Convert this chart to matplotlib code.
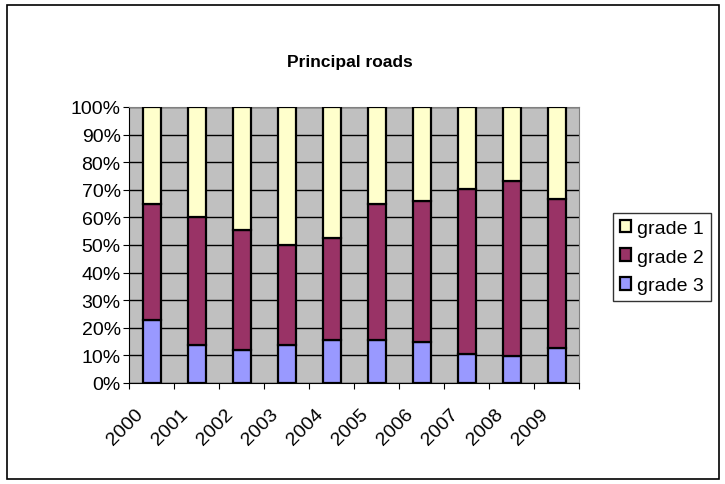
import numpy as np
import matplotlib.pyplot as plt
from matplotlib.patches import Rectangle
from matplotlib.ticker import PercentFormatter

plt.rcParams['font.family'] = ['Liberation Sans', 'DejaVu Sans']

# values (percent of total)
years = ["2000", "2001", "2002", "2003", "2004", "2005", "2006", "2007", "2008", "2009"]
grade3 = [23.0, 13.6, 12.1, 13.6, 15.7, 15.7, 15.0, 10.5, 9.9, 12.8]
grade2_top = [65.0, 60.0, 55.6, 49.9, 52.7, 65.0, 65.9, 70.3, 73.2, 66.7]

g3 = np.array(grade3)
g2 = np.array(grade2_top) - g3
g1 = 100 - np.array(grade2_top)

fig = plt.figure(figsize=(7.25, 4.85), dpi=100)
fig.patches.append(Rectangle((7 / 725, 5 / 485), 712 / 725, 474 / 485, transform=fig.transFigure,
                             fill=False, edgecolor="black", lw=1.2))

ax = fig.add_axes([129 / 725, 1 - 384 / 485, 450 / 725, 276 / 485])
ax.set_facecolor("#C0C0C0")

x = np.arange(len(years))
w = 0.4
kw = dict(width=w, edgecolor="black", linewidth=1.6, zorder=3)
ax.bar(x, g3, color="#9999FF", label="grade 3", **kw)
ax.bar(x, g2, bottom=g3, color="#993366", label="grade 2", **kw)
ax.bar(x, g1, bottom=g3 + g2, color="#FFFFCC", label="grade 1", **kw)

ax.set_xlim(-0.5, len(years) - 0.5)
ax.set_ylim(0, 100)
ax.set_yticks(np.arange(0, 101, 10))
ax.yaxis.set_major_formatter(PercentFormatter(decimals=0))
ax.yaxis.grid(True, color="black", lw=1, zorder=0)
ax.set_axisbelow(True)

# tick marks at category boundaries, labels slightly left of bar centres (Excel style)
ax.set_xticks(np.arange(len(years) + 1) - 0.5)
ax.set_xticklabels([])
ax.set_xticks(x - 0.38, minor=True)
ax.set_xticklabels(years, minor=True, rotation=45, ha="right", va="top",
                   rotation_mode="anchor", fontsize=14)
ax.tick_params(axis="x", which="minor", length=0, pad=16)
ax.tick_params(axis="x", which="major", length=4, direction="out")
ax.tick_params(axis="y", length=4, direction="out", labelsize=14, pad=2)

for s in ["top", "right"]:
    ax.spines[s].set_color("#808080")
for s in ["left", "bottom"]:
    ax.spines[s].set_color("black")

fig.text(350 / 725, 1 - 62 / 485, "Principal roads",
         ha="center", va="center", fontsize=12.5, fontweight="bold")

handles, labels = ax.get_legend_handles_labels()
leg = fig.legend(handles[::-1], labels[::-1], loc="center left",
                 bbox_to_anchor=(613 / 725, 1 - 258 / 485), fontsize=14,
                 frameon=True, fancybox=False, edgecolor="black",
                 handlelength=0.6, handleheight=0.6, handletextpad=0.3,
                 labelspacing=0.6, borderpad=0.35, borderaxespad=0)
leg.get_frame().set_linewidth(1)

fig.savefig("out.png", dpi=100)
